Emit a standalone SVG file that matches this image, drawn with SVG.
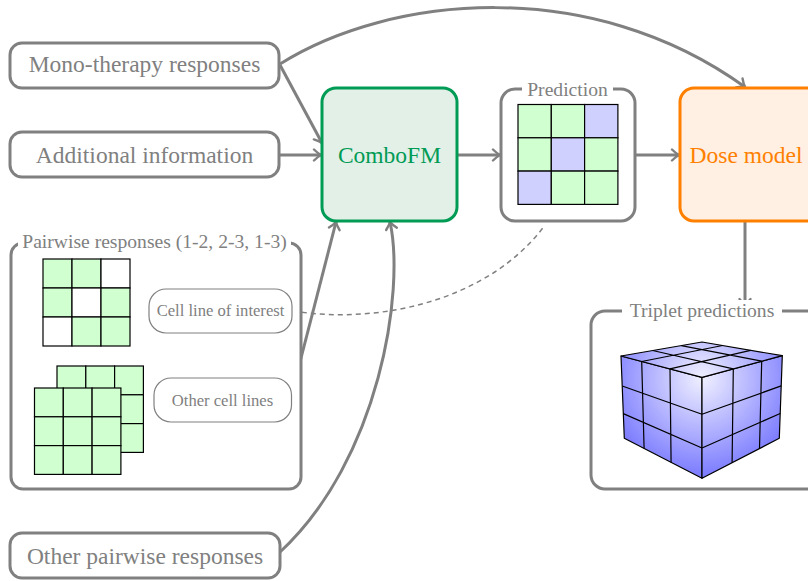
<svg xmlns="http://www.w3.org/2000/svg" width="808" height="581" viewBox="0 0 808 581">
<defs>
<style>
.box{fill:#fff;stroke:#808080;stroke-width:3}
.thin{fill:#fff;stroke:#808080;stroke-width:1.2}
.lbl{font-family:"Liberation Serif","Times New Roman",serif;fill:#808080;text-anchor:middle}
.big{font-size:23.5px}
.mid{font-size:19.6px}
.sm{font-size:16.8px}
.g{fill:#d0ffd0;stroke:#000;stroke-width:1.2}
.w{fill:#fff;stroke:#000;stroke-width:1.2}
.b{fill:#d0d0ff;stroke:#000;stroke-width:1.2}
.conn{fill:none;stroke:#808080;stroke-width:3;marker-end:url(#arr)}
.dash{fill:none;stroke:#808080;stroke-width:1.5;stroke-dasharray:5 4}
.cube{fill:url(#cg);stroke:#000;stroke-width:1.2;stroke-linejoin:round}
.cl{stroke:#000;stroke-width:1.2;fill:none}
.bg{fill:#fff}
</style>
<marker id="arr" markerUnits="userSpaceOnUse" markerWidth="14" markerHeight="14" refX="10" refY="7" orient="auto" viewBox="0 0 14 14">
<path d="M3,1.5 Q7,5.5 10,7 Q7,8.5 3,12.5" fill="none" stroke="#808080" stroke-width="2.4" stroke-linecap="round"/>
</marker>
<radialGradient id="cg" gradientUnits="userSpaceOnUse" cx="702" cy="378" r="105">
<stop offset="0" stop-color="#f0f0ff"/>
<stop offset="1" stop-color="#7373ff"/>
</radialGradient>
</defs>

<g id="connectors">
<path class="conn" d="M280,65 L322,143"/>
<path class="conn" d="M279,155 L321,155"/>
<path class="conn" d="M280,64 C390,-5 590,-25 745,87"/>
<path class="conn" d="M457,155 L500,155"/>
<path class="conn" d="M635,155 L679,155"/>
<path class="conn" d="M745,222 L745,306"/>
<path class="conn" d="M300,362 L336,222"/>
<path class="conn" d="M279,553 C380,460 405,290 390,222"/>
<path class="dash" d="M293,311 C380,325 490,300 545,225"/>
</g>

<g id="mono">
<rect class="box" x="10" y="43" width="269" height="45" rx="12"/>
<text class="lbl big" x="144.5" y="72">Mono-therapy responses</text>
</g>

<g id="additional">
<rect class="box" x="10" y="132" width="269" height="45" rx="12"/>
<text class="lbl big" x="144.5" y="163">Additional information</text>
</g>

<g id="combofm">
<rect x="322" y="88" width="135" height="133" rx="14" fill="#e3f0e8" stroke="#009b55" stroke-width="3"/>
<text class="lbl big" x="389.5" y="163" style="fill:#009b55">ComboFM</text>
</g>

<g id="prediction">
<rect class="box" x="501" y="89" width="134" height="132" rx="14"/>
<rect class="bg" x="522" y="78" width="91" height="20"/>
<text class="lbl mid" x="567.5" y="95.5">Prediction</text>
<rect class="g" x="518" y="104.5" width="33.3" height="33.3"/>
<rect class="g" x="551.3" y="104.5" width="33.3" height="33.3"/>
<rect class="b" x="584.6" y="104.5" width="33.3" height="33.3"/>
<rect class="g" x="518" y="137.8" width="33.3" height="33.3"/>
<rect class="b" x="551.3" y="137.8" width="33.3" height="33.3"/>
<rect class="g" x="584.6" y="137.8" width="33.3" height="33.3"/>
<rect class="b" x="518" y="171.1" width="33.3" height="33.3"/>
<rect class="g" x="551.3" y="171.1" width="33.3" height="33.3"/>
<rect class="g" x="584.6" y="171.1" width="33.3" height="33.3"/>
</g>

<g id="dosemodel">
<rect x="680" y="88" width="145" height="133" rx="14" fill="#fff0e3" stroke="#ff8000" stroke-width="3"/>
<text class="lbl big" x="746" y="163" style="fill:#ff8000">Dose model</text>
</g>

<g id="pairwise">
<rect class="box" x="11" y="243" width="290" height="246" rx="12"/>
<rect class="bg" x="18" y="230" width="273" height="22"/>
<text class="lbl mid" x="154.5" y="247.5">Pairwise responses (1-2, 2-3, 1-3)</text>
<rect class="g" x="43" y="259" width="29" height="29"/>
<rect class="g" x="72" y="259" width="29" height="29"/>
<rect class="w" x="101" y="259" width="29" height="29"/>
<rect class="g" x="43" y="288" width="29" height="29"/>
<rect class="w" x="72" y="288" width="29" height="29"/>
<rect class="g" x="101" y="288" width="29" height="29"/>
<rect class="w" x="43" y="317" width="29" height="29"/>
<rect class="g" x="72" y="317" width="29" height="29"/>
<rect class="g" x="101" y="317" width="29" height="29"/>
<g id="backgrid">
<rect class="g" x="57" y="366" width="28.8" height="28.8"/>
<rect class="g" x="85.8" y="366" width="28.8" height="28.8"/>
<rect class="g" x="114.6" y="366" width="28.8" height="28.8"/>
<rect class="g" x="57" y="394.8" width="28.8" height="28.8"/>
<rect class="g" x="85.8" y="394.8" width="28.8" height="28.8"/>
<rect class="g" x="114.6" y="394.8" width="28.8" height="28.8"/>
<rect class="g" x="57" y="423.6" width="28.8" height="28.8"/>
<rect class="g" x="85.8" y="423.6" width="28.8" height="28.8"/>
<rect class="g" x="114.6" y="423.6" width="28.8" height="28.8"/>
</g>
<g id="frontgrid">
<rect class="g" x="34.5" y="388" width="28.8" height="28.8"/>
<rect class="g" x="63.3" y="388" width="28.8" height="28.8"/>
<rect class="g" x="92.1" y="388" width="28.8" height="28.8"/>
<rect class="g" x="34.5" y="416.8" width="28.8" height="28.8"/>
<rect class="g" x="63.3" y="416.8" width="28.8" height="28.8"/>
<rect class="g" x="92.1" y="416.8" width="28.8" height="28.8"/>
<rect class="g" x="34.5" y="445.6" width="28.8" height="28.8"/>
<rect class="g" x="63.3" y="445.6" width="28.8" height="28.8"/>
<rect class="g" x="92.1" y="445.6" width="28.8" height="28.8"/>
</g>
</g>

<g id="cellinterest">
<rect class="thin" x="149" y="289" width="143" height="44" rx="17"/>
<text class="lbl" x="220.5" y="316" style="font-size:16.6px">Cell line of interest</text>
</g>

<g id="othercells">
<rect class="thin" x="154" y="378" width="137.5" height="44" rx="17"/>
<text class="lbl" x="222.5" y="406" style="font-size:16.6px">Other cell lines</text>
</g>

<g id="triplet">
<rect class="box" x="591" y="311" width="240" height="178" rx="14"/>
<rect class="bg" x="622" y="300" width="160" height="22"/>
<text class="lbl mid" x="702" y="316.5">Triplet predictions</text>
<polygon class="cube" points="621,356 702,377.3 702,478.3 624.3,438.3"/>
<polygon class="cube" points="702,377.3 782.3,355.7 779.3,438.3 702,478.3"/>
<polygon class="cube" points="621,356 702,342 782.3,355.7 702,377.3"/>
<path class="cl" d="M641.7,361.5 L644.1,448.5 M670,368.9 L671.1,462.5 M622.2,386 L702,414.2 M623.3,413.6 L702,448"/>
<path class="cl" d="M733.3,368.9 L732.1,462.7 M761.7,361.2 L759.5,448.5 M702,414.2 L781.2,385.9 M702,448 L780.2,413.5"/>
<path class="cl" d="M641.7,361.5 L722.6,345.5 M670,368.9 L750.6,350.3 M733.3,368.9 L652.6,350.5 M761.7,361.2 L681.3,345.6"/>
</g>

<g id="otherpairwise">
<rect class="box" x="10" y="533" width="270" height="45" rx="12"/>
<text class="lbl big" x="145" y="564">Other pairwise responses</text>
</g>
</svg>
